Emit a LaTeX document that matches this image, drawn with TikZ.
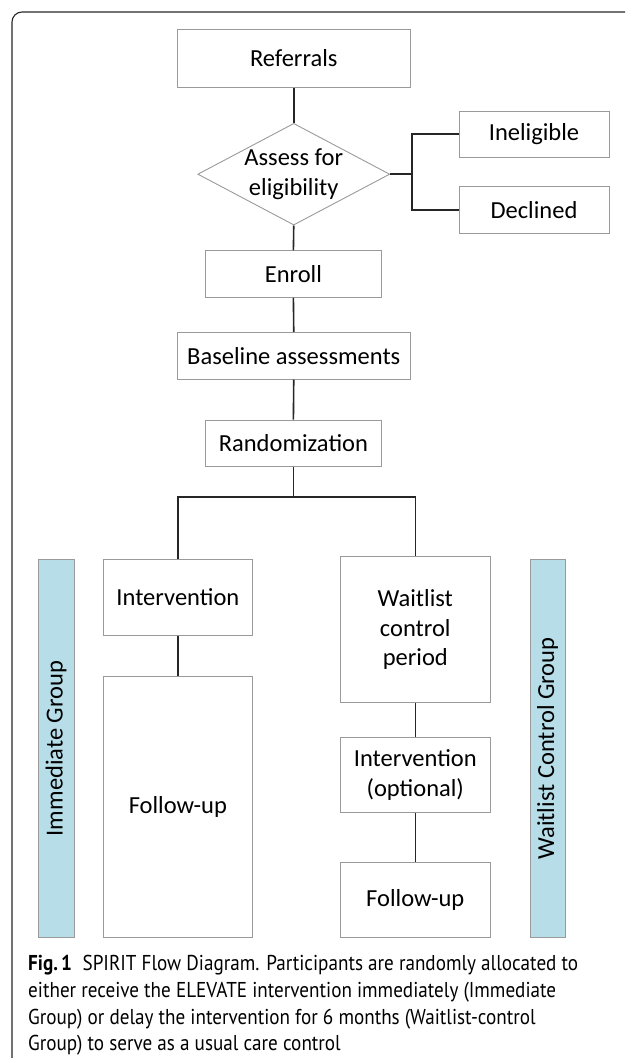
\documentclass[tikz,border=0pt]{standalone}
\usepackage{fontspec}
\setmainfont{Carlito}
\newfontfamily\capfont{PT Sans}
\usetikzlibrary{shapes.geometric}
\definecolor{boxgray}{HTML}{9A9A9A}
\definecolor{barblue}{HTML}{B7DEE8}
\definecolor{linedark}{HTML}{262626}
\begin{document}
\begin{tikzpicture}[x=1pt,y=-1pt,
  box/.style={draw=boxgray, line width=0.9pt, fill=white, inner sep=0pt, align=center,
    font=\fontsize{24.5}{29.5}\selectfont},
  conn/.style={line width=1.6pt, draw=linedark},
  bar/.style={draw=boxgray, line width=0.9pt, fill=barblue, inner sep=0pt,
    font=\fontsize{24.5}{29.5}\selectfont},
  frame/.style={line width=1.1pt, draw=linedark, rounded corners=10pt}]
\useasboundingbox (0,0) rectangle (625,1058);
% outer frame
\coordinate (fbl) at (12,1058);
\coordinate (ftl) at (12,12);
\coordinate (ftr) at (625,12);
\draw[frame] (fbl) -- (ftl) -- (ftr);
% nodes
\node[box, minimum width=233.5pt, minimum height=58.4pt] (ref) at (293.75,58.5) {Referrals};
\node[diamond, draw=boxgray, line width=0.9pt, inner sep=0pt, minimum width=192pt, minimum height=101.7pt,
  label={[align=center, font=\fontsize{24.5}{29.5}\selectfont]center:Assess for\\eligibility}] (assess) at (293.75,174.2) {};
\node[box, minimum width=150pt, minimum height=46.3pt] (inel) at (534,134.2) {Ineligible};
\node[box, minimum width=150pt, minimum height=46.6pt] (decl) at (534,210) {Declined};
\node[box, minimum width=175.3pt, minimum height=46.6pt] (enroll) at (293.4,274) {Enroll};
\node[box, minimum width=233.5pt, minimum height=46.7pt] (base) at (293.75,355.7) {Baseline assessments};
\node[box, minimum width=175.3pt, minimum height=46.3pt] (rand) at (293.4,443.2) {Randomization};
\node[box, minimum width=149.7pt, minimum height=75.7pt] (interv) at (177.85,597.2) {Intervention};
\node[box, minimum width=149.7pt, minimum height=261.7pt] (fu1) at (177.85,806.8) {Follow-up};
\node[box, minimum width=149.8pt, minimum height=145.6pt] (wait) at (415.3,629.5) {Waitlist\\control\\period};
\node[box, minimum width=149.8pt, minimum height=75.4pt] (opt) at (415.3,775) {Intervention\\(optional)};
\node[box, minimum width=149.8pt, minimum height=75pt] (fu2) at (415.3,900.2) {Follow-up};
\node[bar, rotate=90, minimum width=378.4pt, minimum height=35.8pt] (lbar) at (56.2,748.5) {Immediate Group};
\node[bar, rotate=90, minimum width=378.4pt, minimum height=35pt] (rbar) at (547.5,748.5) {Waitlist Control Group};
% connectors
\coordinate (split) at (411.7,174.2);
\coordinate (branch) at (293.4,496.7);
\draw[conn] (ref.south) -- (assess.north);
\draw[conn] (assess.east) -- (split);
\draw[conn] (split) |- (inel.west);
\draw[conn] (split) |- (decl.west);
\draw[conn] (assess.south) -- (enroll.north);
\draw[conn] (enroll.south) -- (base.north);
\draw[conn] (base.south) -- (rand.north);
\draw[conn] (rand.south) -- (branch);
\draw[conn] (branch) -| (interv.north);
\draw[conn] (branch) -| (wait.north);
\draw[conn] (interv.south) -- (fu1.north);
\draw[conn] (wait.south) -- (opt.north);
\draw[conn] (opt.south) -- (fu2.north);
% caption
\node[anchor=base west, inner sep=0pt, font=\capfont\fontsize{21.5}{26.7}\selectfont] (cap) at (28,970.7)
  {\scalebox{0.89}[1]{\begin{tabular}[t]{@{}l@{}}
  \textbf{Fig.\,1}\hspace{0.55em}SPIRIT Flow Diagram. Participants are randomly allocated to\\
  either receive the ELEVATE intervention immediately (Immediate\\
  Group) or delay the intervention for 6 months (Waitlist-control\\
  Group) to serve as a usual care control
  \end{tabular}}};
\end{tikzpicture}
\end{document}
